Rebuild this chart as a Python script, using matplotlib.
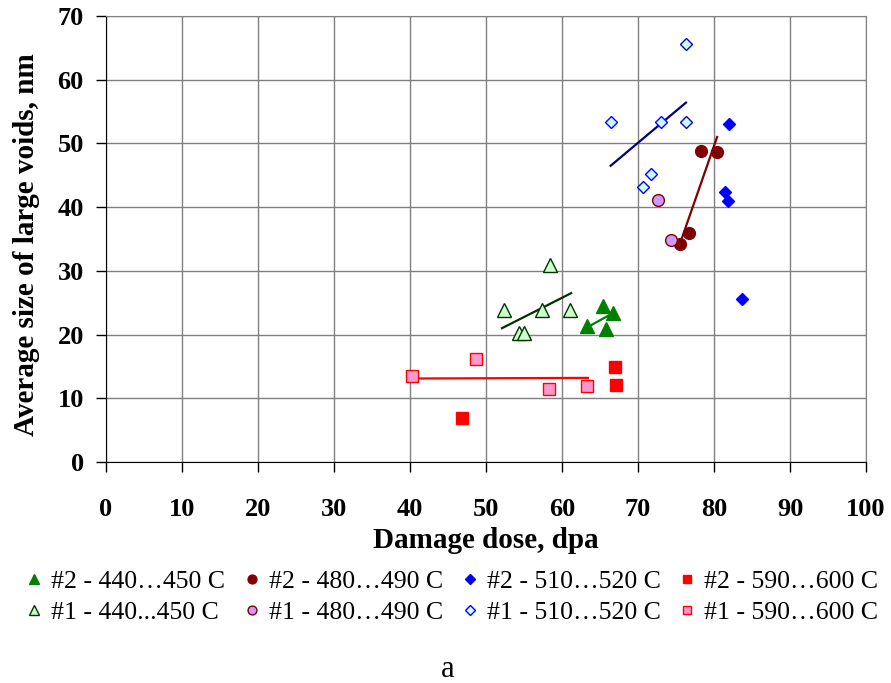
import matplotlib.pyplot as plt
from matplotlib.lines import Line2D

plt.rcParams["font.family"] = ["Liberation Serif", "DejaVu Serif"]

# #2 series (filled markers)
x2_440 = [65.4, 66.7, 63.3, 65.8]
y2_440 = [24.5, 23.4, 21.4, 20.9]
x2_480 = [78.3, 80.4, 76.7, 75.5]
y2_480 = [48.8, 48.7, 36.0, 34.2]
x2_510 = [82.0, 81.4, 81.8, 83.7]
y2_510 = [53.1, 42.4, 41.0, 25.6]
x2_590 = [46.8, 67.0, 67.1]
y2_590 = [6.9, 14.9, 12.1]

# #1 series (open / light markers)
x1_440 = [52.3, 54.4, 55.0, 57.4, 58.4, 61.0]
y1_440 = [23.8, 20.3, 20.3, 23.8, 30.9, 23.8]
x1_480 = [72.6, 74.3]
y1_480 = [41.1, 34.8]
x1_510 = [76.3, 73.0, 76.3, 71.7, 70.6, 66.4]
y1_510 = [65.6, 53.4, 53.4, 45.2, 43.2, 53.4]
x1_590 = [40.3, 48.7, 58.3, 63.3]
y1_590 = [13.5, 16.2, 11.5, 11.9]

# trend lines (end points)
trend_x1_440 = [52.1, 61.2]
trend_y1_440 = [21.0, 26.5]
trend_x2_440 = [63.4, 66.3]
trend_y2_440 = [21.2, 23.1]
trend_x2_480 = [75.7, 80.4]
trend_y2_480 = [34.9, 51.0]
trend_x1_510 = [66.4, 76.3]
trend_y1_510 = [46.5, 56.4]
trend_x1_590 = [40.3, 63.4]
trend_y1_590 = [13.1, 13.2]

fig = plt.figure(figsize=(8.91, 6.83), dpi=100)
ax = fig.add_axes([0.119, 0.3236, 0.853, 0.653])

# trend lines
ax.plot(trend_x1_440, trend_y1_440, color="#003300", lw=1.6, zorder=2)
ax.plot(trend_x2_440, trend_y2_440, color="#008000", lw=1.6, zorder=2)
ax.plot(trend_x2_480, trend_y2_480, color="#800000", lw=1.6, zorder=2)
ax.plot(trend_x1_510, trend_y1_510, color="#000080", lw=1.6, zorder=2)
ax.plot(trend_x1_590, trend_y1_590, color="#ff0000", lw=1.6, zorder=2)

styles = [
    (x2_440, y2_440, dict(marker="^", ms=9.5, mfc="#008000", mec="#008000"), "#2 - 440…450 C"),
    (x1_440, y1_440, dict(marker="^", ms=9.5, mfc="#ccffcc", mec="#003300", mew=1.0), "#1 - 440...450 C"),
    (x2_480, y2_480, dict(marker="o", ms=8.5, mfc="#800000", mec="#800000"), "#2 - 480…490 C"),
    (x1_480, y1_480, dict(marker="o", ms=8.5, mfc="#cc99ff", mec="#800000", mew=1.0), "#1 - 480…490 C"),
    (x2_510, y2_510, dict(marker="D", ms=6.3, mfc="#0000ff", mec="#0000ff"), "#2 - 510…520 C"),
    (x1_510, y1_510, dict(marker="D", ms=6.3, mfc="#ccffff", mec="#0000ff", mew=1.0), "#1 - 510…520 C"),
    (x2_590, y2_590, dict(marker="s", ms=8, mfc="#ff0000", mec="#ff0000"), "#2 - 590…600 C"),
    (x1_590, y1_590, dict(marker="s", ms=8, mfc="#ff99cc", mec="#ff0000", mew=1.0), "#1 - 590…600 C"),
]

handles = []
for xs, ys, st, lab in styles:
    ax.plot(xs, ys, ls="none", zorder=3, **st)
    handles.append(Line2D([], [], ls="none", label=lab, **st))

ax.set_xlim(0, 100)
ax.set_ylim(0, 70)
ax.set_xticks(range(0, 101, 10))
ax.set_yticks(range(0, 71, 10))
ax.grid(True, color="#808080", lw=1.0)
ax.set_axisbelow(True)
ax.spines["left"].set_color("black")
ax.spines["bottom"].set_color("black")
ax.spines["top"].set_color("#808080")
ax.spines["right"].set_color("#808080")
ax.tick_params(direction="out", length=7, width=1, labelsize=19)
ax.tick_params(axis="x", pad=19)
ax.tick_params(axis="y", pad=9)
for lbl in ax.get_xticklabels() + ax.get_yticklabels():
    lbl.set_fontweight("bold")

ax.set_xlabel("Damage dose, dpa", fontsize=21, fontweight="bold", labelpad=4.5)
ax.set_ylabel("Average size of large voids, nm", fontsize=21, fontweight="bold", labelpad=12.5)
ax.yaxis.label.set_y(0.487)

fig.legend(handles=handles, loc="center", bbox_to_anchor=(0.507, 0.126), ncol=4,
           frameon=False, fontsize=18.5, markerscale=0.75, handlelength=0.7,
           handletextpad=0.3, columnspacing=0.7, labelspacing=0.3,
           borderpad=0.2)

fig.text(0.502, 0.009, "a", fontsize=22, ha="center", va="baseline")

fig.savefig("out.png", dpi=100)
